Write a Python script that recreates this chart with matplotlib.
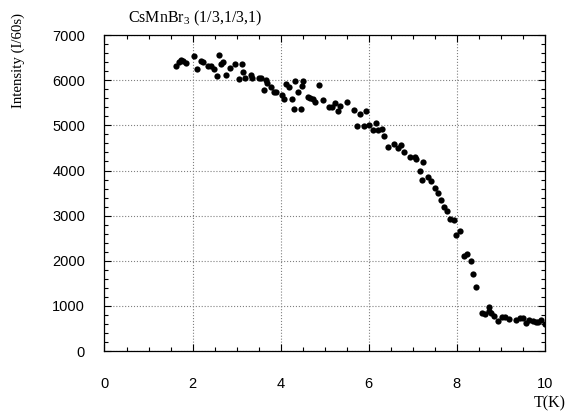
import numpy as np
import matplotlib
matplotlib.use('Agg')
import matplotlib.pyplot as plt
from matplotlib.ticker import MultipleLocator

# temperature (K) and intensity (counts / 60 s)
temp = [1.63, 1.68, 1.74, 1.79, 1.85, 2.03, 2.11, 2.19, 2.24, 2.35,
        2.41, 2.49, 2.56, 2.60, 2.64, 2.69, 2.76, 2.84, 2.97, 3.05,
        3.13, 3.14, 3.19, 3.33, 3.35, 3.50, 3.55, 3.61, 3.66, 3.68,
        3.77, 3.84, 3.90, 4.03, 4.07, 4.11, 4.19, 4.26, 4.31, 4.33,
        4.40, 4.45, 4.48, 4.51, 4.62, 4.67, 4.73, 4.79, 4.88, 4.96,
        5.09, 5.16, 5.24, 5.31, 5.34, 5.51, 5.66, 5.74, 5.81, 5.88,
        5.94, 6.01, 6.09, 6.16, 6.22, 6.29, 6.35, 6.44, 6.58, 6.66,
        6.72, 6.79, 6.94, 7.06, 7.08, 7.16, 7.21, 7.22, 7.35, 7.42,
        7.50, 7.57, 7.63, 7.70, 7.78, 7.85, 7.93, 7.98, 8.08, 8.16,
        8.23, 8.31, 8.36, 8.43, 8.56, 8.63, 8.74, 8.74, 8.78, 8.85,
        8.93, 9.02, 9.09, 9.19, 9.35, 9.44, 9.51, 9.57, 9.64, 9.73,
        9.80, 9.85, 9.91, 10.0]
intensity = [6320, 6395, 6440, 6425, 6375, 6535, 6245, 6430, 6410, 6320,
             6305, 6260, 6085, 6565, 6365, 6415, 6115, 6270, 6365, 6025,
             6365, 6185, 6060, 6115, 6040, 6055, 6055, 5775, 6010, 5930,
             5855, 5730, 5730, 5670, 5595, 5920, 5840, 5580, 5365, 5975,
             5735, 5365, 5875, 5975, 5620, 5605, 5580, 5520, 5890, 5560,
             5410, 5400, 5500, 5325, 5425, 5510, 5330, 4985, 5250, 4985,
             5315, 5005, 4895, 5055, 4900, 4910, 4760, 4520, 4585, 4495,
             4565, 4410, 4305, 4305, 4255, 3995, 3790, 4180, 3860, 3770,
             3615, 3505, 3345, 3195, 3105, 2915, 2900, 2565, 2670, 2115,
             2155, 2005, 1705, 1420, 840, 815, 970, 885, 850, 775,
             670, 745, 755, 715, 695, 725, 725, 630, 680, 655,
             650, 640, 695, 600]

plt.rcParams['mathtext.fontset'] = 'custom'
plt.rcParams['mathtext.rm'] = 'Liberation Serif'

fig = plt.figure(figsize=(5.67, 4.13), dpi=100)
ax = fig.add_axes([0.1843, 0.150, 0.7769, 0.765])

ax.plot(temp, intensity, 'o', color='black', markersize=4.5, markeredgewidth=0)

ax.set_xlim(0, 10)
ax.set_ylim(0, 7000)
ax.xaxis.set_major_locator(MultipleLocator(2))
ax.xaxis.set_minor_locator(MultipleLocator(0.5))
ax.yaxis.set_major_locator(MultipleLocator(1000))
ax.yaxis.set_minor_locator(MultipleLocator(200))
ax.tick_params(which='both', direction='in', top=True, right=True, width=0.8)
ax.tick_params(which='major', length=5)
ax.tick_params(which='minor', length=3)
ax.tick_params(axis='x', pad=19)
ax.tick_params(axis='y', pad=14)
for lab in ax.get_xticklabels() + ax.get_yticklabels():
    lab.set_family('Liberation Sans')
    lab.set_fontsize(10.5)

ax.grid(True, which='major', linestyle=':', color='gray', linewidth=0.8)
for s in ax.spines.values():
    s.set_linewidth(0.9)

fig.text(128 / 567, 1 - 22 / 413, r'CsMnBr$_\mathregular{3}$ (1/3,1/3,1)',
         family='Liberation Serif', fontsize=11.5, ha='left', va='baseline')
fig.text(18 / 567, 1 - 60 / 413, 'Intensity (I/60s)', family='Liberation Serif',
         fontsize=10.7, rotation=90, ha='center', va='center')
fig.text(566 / 567, 1 - 403 / 413, 'T(K)', family='Liberation Serif',
         fontsize=11.5, ha='right', va='center')

fig.savefig('out.png', dpi=100)
